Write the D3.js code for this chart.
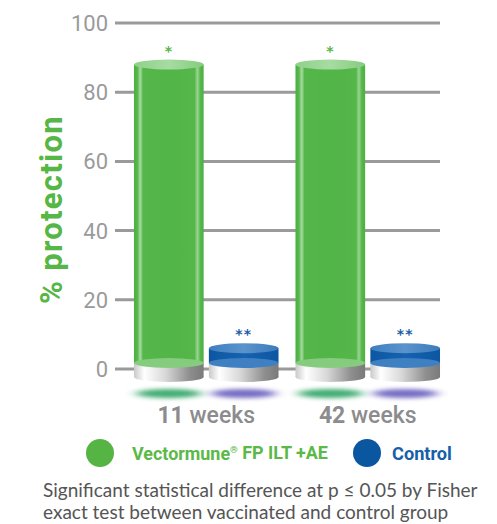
<!DOCTYPE html>
<html><head><meta charset="utf-8">
<script src="https://cdn.jsdelivr.net/npm/d3@7"></script>
<style>html,body{margin:0;padding:0;background:#fff;}svg{display:block;}</style>
</head><body>
<svg id="c" width="497" height="524"></svg>
<script>
const categories = ["11", "42"];
const categoryUnit = "weeks";
const series = ["Vectormune® FP ILT +AE", "Control"];
const vaccinated = [88, 88];
const control = [6, 6];
const significance = ["*", "**"];
const yTicks = [0, 20, 40, 60, 80, 100];
const yTitle = "% protection";
const footnote = ["Significant statistical difference at p ≤ 0.05 by Fisher",
                  "exact test between vaccinated and control group"];

const svg = d3.select("#c");
const defs = svg.append("defs");

const y = d3.scaleLinear().domain([0, 100]).range([369, 23]);
const x0 = d3.scaleBand().domain(categories).range([125.5, 448.5]).paddingInner(0.105).paddingOuter(0.0525);
const x1 = d3.scaleBand().domain(series).range([0, x0.bandwidth()]).paddingInner(0.07);

function fit(sel, w) {
  const n = sel.node();
  const fs = parseFloat(sel.attr("font-size"));
  const cur = n.getComputedTextLength();
  sel.attr("font-size", fs * w / cur);
}

function hGrad(id, stops) {
  const g = defs.append("linearGradient").attr("id", id).attr("x1", 0).attr("x2", 1).attr("y1", 0).attr("y2", 0);
  stops.forEach(s => g.append("stop").attr("offset", s[0]).attr("stop-color", s[1]));
}
hGrad("gGreen", [[0, "#4aae40"], [0.05, "#58b94d"], [0.09, "#a9dca2"], [0.13, "#55b64a"], [0.5, "#52b548"], [0.87, "#55b64a"], [0.91, "#9ad594"], [0.95, "#58b94d"], [1, "#4aae40"]]);
hGrad("gGreenTop", [[0, "#8fd18a"], [0.5, "#a6dba1"], [1, "#86cc80"]]);
hGrad("gBlue", [[0, "#0d57a2"], [0.5, "#1762ae"], [1, "#0d57a2"]]);
hGrad("gBlueTop", [[0, "#3f7fc0"], [0.5, "#5a93cc"], [1, "#3b7bbd"]]);
hGrad("gSilver", [[0, "#c9c9c9"], [0.15, "#ffffff"], [0.45, "#d8d8d8"], [0.8, "#8e8e8e"], [1, "#7a7a7a"]]);
const blur = defs.append("filter").attr("id", "blur").attr("x", "-50%").attr("y", "-200%").attr("width", "200%").attr("height", "500%");
blur.append("feGaussianBlur").attr("stdDeviation", "6 2.2");

const grid = svg.append("g");
grid.selectAll("line").data(yTicks).join("line")
  .attr("x1", 115).attr("x2", 440).attr("y1", d => y(d)).attr("y2", d => y(d))
  .attr("stroke", "#9a9a9c").attr("stroke-width", 3);
grid.selectAll("text").data(yTicks).join("text")
  .attr("x", 108).attr("y", d => y(d)).attr("dy", "0.36em")
  .attr("text-anchor", "end").attr("font-family", "Roboto").attr("font-size", 22)
  .attr("fill", "#9a9a9c").text(d => d);

svg.append("text").attr("transform", "translate(62,209.5) rotate(-90)")
  .attr("text-anchor", "middle").attr("font-family", "Roboto").attr("font-weight", 700)
  .attr("font-size", 31).attr("fill", "#56b646").attr("letter-spacing", 1.3).text(yTitle);

const ry = 5;
const pedTop = y(0) - 6, pedBot = y(0) + 8;
const barData = [];
categories.forEach((c, i) => {
  barData.push({cat: c, s: series[0], v: vaccinated[i], kind: "g", sig: significance[0]});
  barData.push({cat: c, s: series[1], v: control[i], kind: "b", sig: significance[1]});
});

svg.append("g").selectAll("ellipse").data(barData).join("ellipse")
  .attr("cx", d => x0(d.cat) + x1(d.s) + x1.bandwidth() / 2).attr("cy", 393.5)
  .attr("rx", x1.bandwidth() / 2 - 2).attr("ry", 4.5)
  .attr("fill", d => d.kind === "g" ? "#2fa465" : "#5548b5").attr("opacity", d => d.kind === "g" ? 0.9 : 0.8)
  .attr("filter", "url(#blur)");

const bars = svg.append("g").selectAll("g").data(barData).join("g")
  .attr("transform", d => `translate(${x0(d.cat) + x1(d.s)},0)`);
const w = x1.bandwidth(), cx = w / 2;
bars.append("ellipse").attr("cx", cx).attr("cy", pedBot).attr("rx", w / 2).attr("ry", ry).attr("fill", "url(#gSilver)");
bars.append("rect").attr("x", 0).attr("y", pedTop).attr("width", w).attr("height", pedBot - pedTop).attr("fill", "url(#gSilver)");
bars.append("rect").attr("x", 0).attr("y", d => y(d.v)).attr("width", w).attr("height", d => pedTop - y(d.v))
  .attr("fill", d => d.kind === "g" ? "url(#gGreen)" : "url(#gBlue)");
bars.append("ellipse").attr("cx", cx).attr("cy", pedTop).attr("rx", w / 2).attr("ry", ry)
  .attr("fill", d => d.kind === "g" ? "#86cc7f" : "#3f80c2");
bars.append("ellipse").attr("cx", cx).attr("cy", d => y(d.v)).attr("rx", w / 2).attr("ry", ry)
  .attr("fill", d => d.kind === "g" ? "url(#gGreenTop)" : "url(#gBlueTop)");
bars.append("text").attr("x", cx).attr("y", d => y(d.v) - 9).attr("text-anchor", "middle")
  .attr("font-family", "DejaVu Sans").attr("font-weight", 700).attr("font-size", 14)
  .attr("fill", d => d.kind === "g" ? "#56b646" : "#1a5ea8").attr("letter-spacing", 1).text(d => d.sig);

const xl = svg.append("g").selectAll("text").data(categories).join("text")
  .attr("x", d => x0(d) + x0.bandwidth() / 2).attr("y", 423).attr("text-anchor", "middle")
  .attr("font-family", "Roboto").attr("font-size", 23).attr("fill", "#8c8c8e");
xl.append("tspan").attr("font-weight", 700).text(d => d + " ");
xl.append("tspan").attr("font-weight", 500).text(categoryUnit);

const lg = svg.append("g");
lg.append("circle").attr("cx", 100).attr("cy", 453).attr("r", 14).attr("fill", "#55b443");
const lt1 = lg.append("text").attr("x", 132).attr("y", 459.5).attr("font-family", "Roboto").attr("font-weight", 700)
  .attr("font-size", 17).attr("fill", "#5ab947");
lt1.append("tspan").text("Vectormune");
lt1.append("tspan").attr("font-size", "0.55em").attr("dy", "-0.7em").text("®");
lt1.append("tspan").attr("dy", "0.38em").text(" FP ILT +AE");
fit(lt1, 196);
lg.append("circle").attr("cx", 367).attr("cy", 453).attr("r", 14).attr("fill", "#0a57a0");
const lt2 = lg.append("text").attr("x", 392).attr("y", 459.5).attr("font-family", "Roboto").attr("font-weight", 700)
  .attr("font-size", 17).attr("fill", "#1560a8").text(series[1]);
fit(lt2, 60);

const fn = svg.append("g").selectAll("text").data(footnote).join("text")
  .attr("x", 43).attr("y", (d, i) => 497 + i * 22).attr("font-family", "Lato")
  .attr("font-size", 18).attr("fill", "#555555").text(d => d);
fit(d3.select(fn.nodes()[0]), 435);
fn.attr("font-size", d3.select(fn.nodes()[0]).attr("font-size"));
</script>
</body></html>
